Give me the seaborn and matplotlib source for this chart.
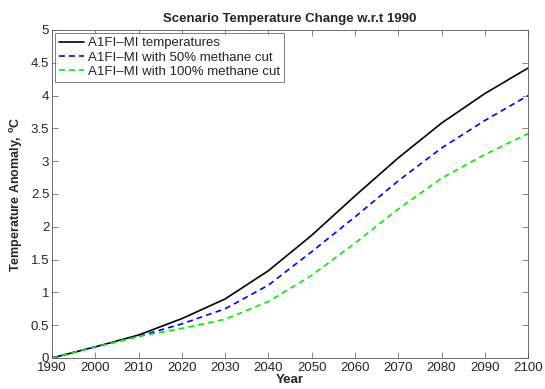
import matplotlib
matplotlib.use('Agg')
import matplotlib.pyplot as plt
import numpy as np
import pandas as pd
import seaborn as sns
from matplotlib.ticker import FuncFormatter, MultipleLocator

years = [1990, 2000, 2010, 2020, 2030, 2040, 2050, 2060, 2070, 2080, 2090, 2100]
temps_base = [0, 0.17, 0.35, 0.60, 0.90, 1.33, 1.87, 2.47, 3.05, 3.58, 4.03, 4.42]
temps_cut50 = [0, 0.17, 0.33, 0.52, 0.75, 1.11, 1.62, 2.15, 2.70, 3.20, 3.62, 4.00]
temps_cut100 = [0, 0.17, 0.33, 0.45, 0.59, 0.86, 1.26, 1.75, 2.27, 2.74, 3.10, 3.42]

labels = ['A1FI\u2013MI temperatures',
          'A1FI\u2013MI with 50% methane cut',
          'A1FI\u2013MI with 100% methane cut']

sns.set_style('ticks')
plt.rcParams['font.family'] = ['Liberation Sans', 'DejaVu Sans']
plt.rcParams['mathtext.fontset'] = 'custom'
plt.rcParams['mathtext.rm'] = 'Liberation Sans'
plt.rcParams['mathtext.bf'] = 'Liberation Sans:bold'
plt.rcParams['xtick.direction'] = 'in'
plt.rcParams['ytick.direction'] = 'in'

fig = plt.figure(figsize=(5.45, 3.89), dpi=100)
ax = fig.add_axes([0.0954, 0.0797, 0.8736, 0.8433])

df = pd.DataFrame({'Year': years, 'base': temps_base,
                   'cut50': temps_cut50, 'cut100': temps_cut100})

sns.lineplot(data=df, x='Year', y='base', color='black', lw=1.2,
             label=labels[0], ax=ax)
sns.lineplot(data=df, x='Year', y='cut50', color='#0000ff', lw=1.2,
             label=labels[1], ax=ax)
sns.lineplot(data=df, x='Year', y='cut100', color='#00ee00', lw=1.2,
             label=labels[2], ax=ax)
for l in ax.lines[1:]:
    l.set_dashes((3.5, 2.5))

ax.set_xlim(1990, 2100)
ax.set_ylim(0, 5)
ax.xaxis.set_major_locator(MultipleLocator(10))
ax.yaxis.set_major_locator(MultipleLocator(0.5))
ax.yaxis.set_major_formatter(FuncFormatter(lambda v, p: '%g' % v))
ax.tick_params(which='both', top=True, right=True, length=4, width=0.5,
               color='#555555', labelsize=9.5, pad=2)
ax.tick_params(axis='x', pad=3)
for s in ax.spines.values():
    s.set_visible(True)
    s.set_linewidth(0.6)
    s.set_color('#555555')

ax.set_title('Scenario Temperature Change w.r.t 1990', fontsize=9.5,
             fontweight='bold', pad=6)
ax.set_xlabel('Year', fontsize=9.5, fontweight='bold', labelpad=0)
ax.set_ylabel(r'Temperature Anomaly, $\mathbf{^oC}$', fontsize=9,
              fontweight='bold', labelpad=4)

leg = ax.legend(loc='upper left', fontsize=9.5, frameon=True, fancybox=False,
                handlelength=1.9, handletextpad=0.3, borderpad=0.3,
                labelspacing=0.15, borderaxespad=0.25)
leg.get_frame().set_edgecolor('#444444')
leg.get_frame().set_linewidth(0.6)

fig.savefig('out.png', dpi=100)
